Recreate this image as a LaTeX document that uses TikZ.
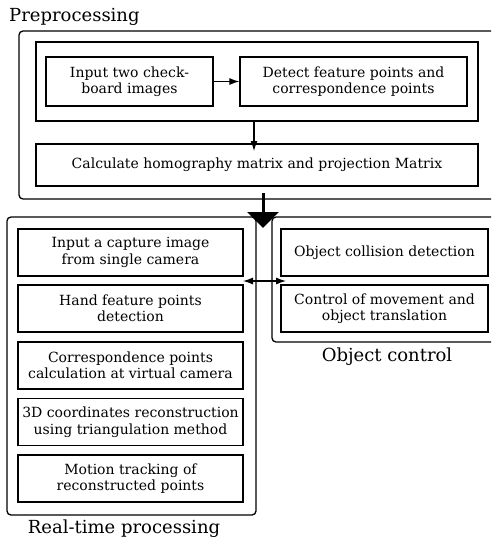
\documentclass[tikz,border=0pt]{standalone}
\usepackage{fontspec}
\setmainfont{DejaVu Serif}
\usetikzlibrary{arrows.meta}
\begin{document}
\begin{tikzpicture}[x=1pt,y=-1pt,
  box/.style={draw, line width=1.3pt, inner sep=0pt, align=center,
    font=\fontsize{14}{16.5}\selectfont},
  group/.style={draw, line width=1.3pt, rounded corners=4pt, inner sep=0pt},
  title/.style={font=\fontsize{18}{20}\selectfont, inner sep=0pt},
  arr/.style={-{Latex[length=10pt,width=7pt]}, line width=1.1pt},
]
\useasboundingbox (0,0) rectangle (491,538);
\clip (0,0) rectangle (491,538);
% Preprocessing
\node[title, anchor=base west] (tp) at (9,21) {Preprocessing};
\node[group, minimum width=481, minimum height=168] (pre) at (259.5,115) {};
\node[draw, line width=1.3pt, inner sep=0pt, minimum width=442, minimum height=79] (in1) at (257,81.5) {};
\node[box, minimum width=167, minimum height=49] (a) at (129.5,81.5) {Input two check-\\board images};
\node[box, minimum width=227, minimum height=49] (b) at (353.5,81.5) {Detect feature points and\\correspondence points};
\node[box, minimum width=442, minimum height=42] (c) at (257,165) {Calculate homography matrix and projection Matrix};
\draw[arr] (a.east) -- (b.west);
\coordinate (ct) at (254,151);
\draw[arr] (in1.south -| ct) -- (ct);
% Real-time processing
\node[group, minimum width=249, minimum height=298] (rt) at (131.5,366) {};
\node[group, minimum width=240, minimum height=125] (oc) at (392,279.5) {};
\node[box, minimum width=225, minimum height=47] (r1) at (130.5,252.5) {Input a capture image\\from single camera};
\node[box, minimum width=225, minimum height=47] (r2) at (130.5,308.5) {Hand feature points\\detection};
\node[box, minimum width=225, minimum height=47] (r3) at (130.5,365.5) {Correspondence points\\calculation at virtual camera};
\node[box, minimum width=225, minimum height=47] (r4) at (130.5,422) {3D coordinates reconstruction\\using triangulation method};
\node[box, minimum width=225, minimum height=47] (r5) at (130.5,478.5) {Motion tracking of\\reconstructed points};
\node[box, minimum width=207, minimum height=47] (o1) at (384.5,252.5) {Object collision detection};
\node[box, minimum width=207, minimum height=47] (o2) at (384.5,308.5) {Control of movement and\\object translation};
\node[title] (toc) at (387,357) {Object control};
\node[title] (trt) at (124,529) {Real-time processing};
% thick arrow
\coordinate (ts) at (263,193);
\coordinate (te) at (263,228);
\draw[line width=3pt, -{Triangle[length=16pt,width=31pt]}] (ts) -- (te);
% double arrow
\coordinate (dl) at (243,281);
\coordinate (dr) at (286,281);
\draw[{Latex[length=10pt,width=7pt]}-{Latex[length=10pt,width=7pt]}, line width=1.1pt] (dl) -- (dr);
\end{tikzpicture}
\end{document}
